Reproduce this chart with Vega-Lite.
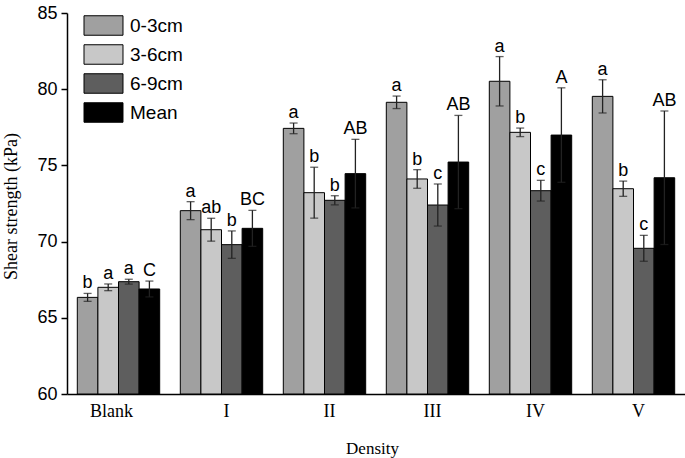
{
  "$schema": "https://vega.github.io/schema/vega-lite/v6.json",
  "width": 618,
  "height": 381,
  "autosize": {"type": "none"},
  "padding": {"left": 67, "top": 13, "right": 0, "bottom": 64},
  "background": "white",
  "config": {"view": {"stroke": null}},
  "data": {"values": [
    {"density": "Blank", "depth": "0-3cm", "value": 66.34, "lo": 66.08, "hi": 66.60, "label": "b"},
    {"density": "Blank", "depth": "3-6cm", "value": 67.00, "lo": 66.78, "hi": 67.22, "label": "a"},
    {"density": "Blank", "depth": "6-9cm", "value": 67.37, "lo": 67.21, "hi": 67.53, "label": "a"},
    {"density": "Blank", "depth": "Mean", "value": 66.89, "lo": 66.37, "hi": 67.41, "label": "C"},
    {"density": "I", "depth": "0-3cm", "value": 72.03, "lo": 71.44, "hi": 72.62, "label": "a"},
    {"density": "I", "depth": "3-6cm", "value": 70.78, "lo": 70.03, "hi": 71.53, "label": "ab"},
    {"density": "I", "depth": "6-9cm", "value": 69.80, "lo": 68.90, "hi": 70.70, "label": "b"},
    {"density": "I", "depth": "Mean", "value": 70.87, "lo": 69.69, "hi": 72.05, "label": "BC"},
    {"density": "II", "depth": "0-3cm", "value": 77.43, "lo": 77.08, "hi": 77.78, "label": "a"},
    {"density": "II", "depth": "3-6cm", "value": 73.21, "lo": 71.54, "hi": 74.88, "label": "b"},
    {"density": "II", "depth": "6-9cm", "value": 72.71, "lo": 72.41, "hi": 73.01, "label": "b"},
    {"density": "II", "depth": "Mean", "value": 74.46, "lo": 72.21, "hi": 76.71, "label": "AB"},
    {"density": "III", "depth": "0-3cm", "value": 79.14, "lo": 78.73, "hi": 79.55, "label": "a"},
    {"density": "III", "depth": "3-6cm", "value": 74.11, "lo": 73.50, "hi": 74.72, "label": "b"},
    {"density": "III", "depth": "6-9cm", "value": 72.40, "lo": 71.02, "hi": 73.78, "label": "c"},
    {"density": "III", "depth": "Mean", "value": 75.22, "lo": 72.16, "hi": 78.28, "label": "AB"},
    {"density": "IV", "depth": "0-3cm", "value": 80.52, "lo": 78.90, "hi": 82.14, "label": "a"},
    {"density": "IV", "depth": "3-6cm", "value": 77.17, "lo": 76.89, "hi": 77.45, "label": "b"},
    {"density": "IV", "depth": "6-9cm", "value": 73.34, "lo": 72.66, "hi": 74.02, "label": "c"},
    {"density": "IV", "depth": "Mean", "value": 76.99, "lo": 73.89, "hi": 80.09, "label": "A"},
    {"density": "V", "depth": "0-3cm", "value": 79.53, "lo": 78.44, "hi": 80.62, "label": "a"},
    {"density": "V", "depth": "3-6cm", "value": 73.47, "lo": 72.97, "hi": 73.97, "label": "b"},
    {"density": "V", "depth": "6-9cm", "value": 69.56, "lo": 68.71, "hi": 70.41, "label": "c"},
    {"density": "V", "depth": "Mean", "value": 74.19, "lo": 69.81, "hi": 78.57, "label": "AB"}
  ]},
  "encoding": {
    "x": {
      "field": "density", "type": "nominal",
      "sort": ["Blank", "I", "II", "III", "IV", "V"],
      "scale": {"paddingInner": 0.2, "paddingOuter": 0.1},
      "axis": {
        "title": "Density", "labelAngle": 0, "ticks": false,
        "domainColor": "black", "domainWidth": 1.5,
        "labelFont": "Liberation Serif", "labelFontSize": 18, "labelColor": "black",
        "labelBaseline": "alphabetic", "labelPadding": 22,
        "labelOffset": {"condition": {"test": "datum.value === 'Blank'", "value": -7}, "value": 5},
        "titleFont": "Liberation Serif", "titleFontSize": 17, "titleFontWeight": "normal", "titleColor": "black",
        "titleBaseline": "alphabetic", "titleY": 59, "titleX": 305, "titleAnchor": "start", "titleAlign": "center"
      }
    },
    "xOffset": {"field": "depth", "type": "nominal", "sort": ["0-3cm", "3-6cm", "6-9cm", "Mean"], "scale": {"paddingInner": 0, "paddingOuter": 0}}
  },
  "layer": [
    {
      "mark": {"type": "bar", "stroke": "black", "strokeWidth": 1, "clip": true},
      "encoding": {
        "y": {
          "field": "value", "type": "quantitative",
          "scale": {"domain": [60, 85], "nice": false, "zero": false},
          "axis": {
            "title": "Shear strength (kPa)", "values": [60, 65, 70, 75, 80, 85], "grid": false,
            "domainColor": "black", "domainWidth": 1.5, "tickColor": "black", "tickWidth": 1.5, "tickSize": 6,
            "labelFont": "Liberation Sans", "labelFontSize": 18, "labelColor": "black", "labelPadding": 4,
            "titleFont": "Liberation Serif", "titleFontSize": 18, "titleFontWeight": "normal", "titleColor": "black",
            "titleAngle": 270, "titleX": -56, "titleY": 193, "titleAlign": "center", "titleBaseline": "middle", "titleAnchor": "start"
          }
        },
        "y2": {"datum": 60},
        "color": {
          "field": "depth", "type": "nominal",
          "sort": ["0-3cm", "3-6cm", "6-9cm", "Mean"],
          "scale": {"domain": ["0-3cm", "3-6cm", "6-9cm", "Mean"], "range": ["#a0a0a0", "#c8c8c8", "#5e5e5e", "#000000"]},
          "legend": {
            "title": null, "orient": "none", "legendX": 26, "legendY": 2, "padding": 0,
            "symbolType": "M-2,-1H2V1H-2Z", "symbolSize": 380,
            "symbolStrokeColor": "black", "symbolStrokeWidth": 1, "symbolOpacity": 1,
            "labelFont": "Liberation Sans", "labelFontSize": 19, "labelColor": "black", "labelOffset": 16,
            "rowPadding": 4
          }
        }
      }
    },
    {
      "mark": {"type": "rule", "color": "#222222", "strokeWidth": 1.3},
      "encoding": {
        "y": {"field": "lo", "type": "quantitative"},
        "y2": {"field": "hi"}
      }
    },
    {
      "mark": {"type": "tick", "color": "#222222", "thickness": 1.3, "size": 8, "orient": "horizontal"},
      "encoding": {"y": {"field": "lo", "type": "quantitative"}}
    },
    {
      "mark": {"type": "tick", "color": "#222222", "thickness": 1.3, "size": 8, "orient": "horizontal"},
      "encoding": {"y": {"field": "hi", "type": "quantitative"}}
    },
    {
      "mark": {"type": "text", "font": "Liberation Sans", "fontSize": 18, "color": "black", "baseline": "alphabetic", "dy": -5},
      "encoding": {
        "y": {"field": "hi", "type": "quantitative"},
        "text": {"field": "label"}
      }
    }
  ]
}
